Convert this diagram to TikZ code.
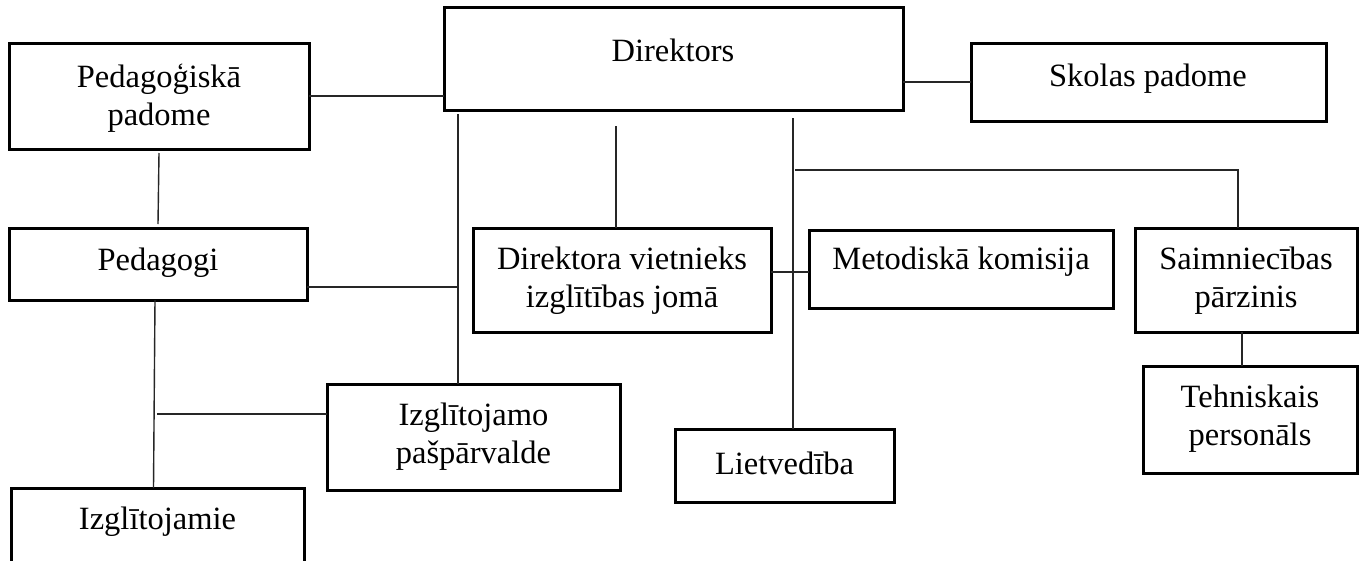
\documentclass[tikz,border=0pt]{standalone}
\usepackage{fontspec}
\setmainfont{Liberation Serif}
\begin{document}
\begin{tikzpicture}[x=1pt,y=-1pt,
  box/.style={draw=black,line width=3pt,rectangle,inner sep=0pt,outer sep=0pt},
  lbl/.style={inner sep=0pt,align=center,font=\fontsize{32.5}{38}\selectfont},
  conn/.style={draw=black!85,line width=1.4pt}]
\useasboundingbox (0,0) rectangle (1364,560);
\clip (0,0) rectangle (1364,560);
\fill[white] (0,0) rectangle (1364,560);
% boxes
\node[box,minimum width=300pt,minimum height=106pt] (ped) at (159,96) {};
\node[box,minimum width=459pt,minimum height=103pt] (dir) at (673.5,58.5) {};
\node[box,minimum width=355pt,minimum height=78pt] (sko) at (1148.5,82) {};
\node[box,minimum width=298pt,minimum height=72pt] (pedg) at (158,264) {};
\node[box,minimum width=293pt,minimum height=106pt] (izp) at (473.5,437) {};
\node[box,minimum width=293pt,minimum height=102pt] (izg) at (157.5,539) {};
\node[box,minimum width=298pt,minimum height=104pt] (vie) at (622,280) {};
\node[box,minimum width=304pt,minimum height=78pt] (met) at (961,269) {};
\node[box,minimum width=219pt,minimum height=73pt] (lie) at (784.5,465.5) {};
\node[box,minimum width=222pt,minimum height=104pt] (sai) at (1246,280) {};
\node[box,minimum width=214pt,minimum height=107pt] (teh) at (1250,419.5) {};
% labels
\node[lbl] (ped-t) at (159,98) {Pedagoģiskā\\padome};
\node[lbl] (dir-t) at (673,50) {Direktors};
\node[lbl] (sko-t) at (1148,79) {Skolas padome};
\node[lbl] (pedg-t) at (158,263) {Pedagogi};
\node[lbl] (izp-t) at (473.5,437) {Izglītojamo\\pašpārvalde};
\node[lbl] (izg-t) at (157.5,522) {Izglītojamie};
\node[lbl] (vie-t) at (622,281) {Direktora vietnieks\\izglītības jomā};
\node[lbl] (met-t) at (961,262) {Metodiskā komisija};
\node[lbl] (lie-t) at (784.5,463) {Lietvedība};
\node[lbl] (sai-t) at (1246,281) {Saimniecības\\pārzinis};
\node[lbl] (teh-t) at (1250,419) {Tehniskais\\personāls};
% connector points
\coordinate (v1top) at (458,114);
\coordinate (j1) at (457,287);
\coordinate (j2) at (157,414);
\coordinate (v2top) at (616,126);
\coordinate (v3top) at (793,118);
\coordinate (j3) at (793,272);
\coordinate (j4) at (795,170);
\coordinate (j5) at (1238,170);
% connectors
\draw[conn] (ped.east) -- (ped.east -| dir.west);
\draw[conn] (sko.west) -- (sko.west -| dir.east);
\draw[conn] ([yshift=-4pt]ped.south) -- ([yshift=4pt]pedg.north);
\draw[conn] (v1top) -- (v1top |- izp.north);
\draw[conn] (j1) -- (j1 -| pedg.east);
\draw[conn] ([xshift=-3pt]pedg.south) -- ([xshift=-4pt]izg.north);
\draw[conn] (j2) -- (j2 -| izp.west);
\draw[conn] (v2top) -- (v2top |- vie.north);
\draw[conn] (v3top) -- (v3top |- lie.north);
\draw[conn] (j3 -| vie.east) -- (j3 -| met.west);
\draw[conn] (j4) -- (j5) -- (j5 |- sai.north);
\draw[conn] ([xshift=-4pt]sai.south) -- ([xshift=-4pt]sai.south |- teh.north);
\end{tikzpicture}
\end{document}
